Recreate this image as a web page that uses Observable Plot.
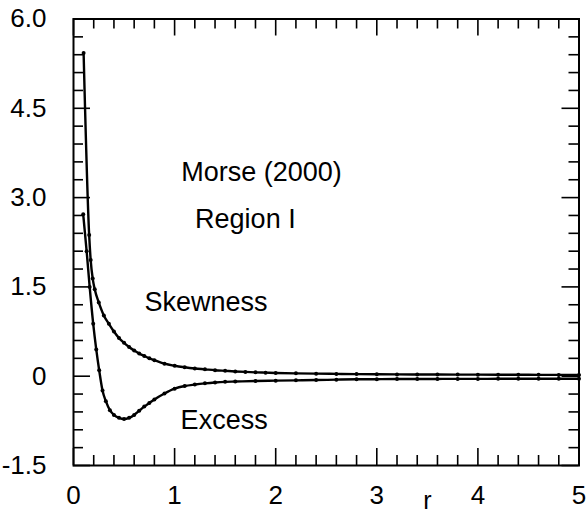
<!DOCTYPE html>
<html><head><meta charset="utf-8">
<script src="https://cdn.jsdelivr.net/npm/d3@7"></script>
<script src="https://cdn.jsdelivr.net/npm/@observablehq/plot@0.6"></script>
<style>html,body{margin:0;padding:0;background:#fff}</style>
</head><body><div id="chart"></div>
<script>
// Skewness series (r, value)
const skewR = [0.10, 0.155, 0.17, 0.19, 0.21, 0.25, 0.30, 0.35, 0.40, 0.45, 0.50, 0.55, 0.60, 0.65, 0.70, 0.75, 0.80, 0.90, 1.0, 1.1, 1.2, 1.3, 1.4, 1.5, 1.6, 1.7, 1.8, 1.9, 2.0, 2.2, 2.4, 2.6, 2.8, 3.0, 3.2, 3.4, 3.6, 3.8, 4.0, 4.2, 4.4, 4.6, 4.8, 5.0];
const skewness = [5.43, 2.37, 1.95, 1.64, 1.46, 1.24, 1.02, 0.88, 0.75, 0.64, 0.56, 0.49, 0.43, 0.38, 0.34, 0.30, 0.27, 0.21, 0.175, 0.15, 0.13, 0.115, 0.10, 0.09, 0.08, 0.072, 0.065, 0.06, 0.055, 0.048, 0.043, 0.039, 0.035, 0.032, 0.03, 0.029, 0.028, 0.027, 0.026, 0.025, 0.024, 0.023, 0.022, 0.022];
// Excess series (r, value)
const excessR = [0.096, 0.13, 0.16, 0.195, 0.225, 0.254, 0.287, 0.32, 0.36, 0.40, 0.45, 0.50, 0.55, 0.60, 0.65, 0.70, 0.75, 0.80, 0.90, 1.0, 1.1, 1.2, 1.3, 1.4, 1.5, 1.6, 1.8, 2.0, 2.2, 2.4, 2.6, 2.8, 3.0, 3.2, 3.4, 3.6, 3.8, 4.0, 4.2, 4.4, 4.6, 4.8, 5.0];
const excess = [2.72, 2.1, 1.5, 0.88, 0.45, 0.10, -0.24, -0.42, -0.57, -0.65, -0.70, -0.72, -0.70, -0.65, -0.58, -0.51, -0.45, -0.39, -0.29, -0.21, -0.165, -0.14, -0.12, -0.105, -0.095, -0.09, -0.08, -0.075, -0.07, -0.065, -0.058, -0.052, -0.05, -0.048, -0.047, -0.046, -0.045, -0.045, -0.044, -0.044, -0.043, -0.043, -0.043];

const xTicks = [0, 1, 2, 3, 4, 5];
const xMinorTicks = [0.2, 0.4, 0.6, 0.8, 1.2, 1.4, 1.6, 1.8, 2.2, 2.4, 2.6, 2.8, 3.2, 3.4, 3.6, 3.8, 4.2, 4.4, 4.6, 4.8];
const yTicks = [-1.5, 0, 1.5, 3, 4.5, 6];
const yTickLabels = ["-1.5", "0", "1.5", "3.0", "4.5", "6.0"];
const yMinorTicks = [-1.2, -0.9, -0.6, -0.3, 0.3, 0.6, 0.9, 1.2, 1.8, 2.1, 2.4, 2.7, 3.3, 3.6, 3.9, 4.2, 4.8, 5.1, 5.4, 5.7];

const annoText = ["Morse (2000)", "Region I", "Skewness", "Excess"];
const annoR = [1.86, 1.70, 1.31, 1.49];
const annoV = [3.43, 2.64, 1.24, -0.74];
const axisTitle = ["r"];
const axisTitleR = [3.5];
const axisTitleV = [-2.1];

const W = 588, H = 516;
const mL = 73, mR = 9.5, mT = 18.5, mB = 51;
const fw = W - mL - mR, fh = H - mT - mB;
const minorLen = 10, majorLen = 17;
const font = "'Liberation Sans', Arial, Helvetica, sans-serif";

const chart = Plot.plot({
  width: W, height: H,
  marginLeft: mL, marginRight: mR, marginTop: mT, marginBottom: mB,
  style: {fontFamily: font, fontSize: "26px", color: "#000", background: "#fff"},
  x: {domain: [0, 5], label: null},
  y: {domain: [-1.5, 6], label: null},
  marks: [
    Plot.frame({stroke: "#000", strokeWidth: 2}),
    // inward ticks, bottom & top
    Plot.tickX(xMinorTicks, {x: d => d, insetTop: fh - minorLen, stroke: "#000", strokeWidth: 1.6}),
    Plot.tickX(xMinorTicks, {x: d => d, insetBottom: fh - minorLen, stroke: "#000", strokeWidth: 1.6}),
    Plot.tickX(xTicks, {x: d => d, insetTop: fh - majorLen, stroke: "#000", strokeWidth: 1.6}),
    Plot.tickX(xTicks, {x: d => d, insetBottom: fh - majorLen, stroke: "#000", strokeWidth: 1.6}),
    // inward ticks, left & right
    Plot.tickY(yMinorTicks, {y: d => d, insetRight: fw - minorLen, stroke: "#000", strokeWidth: 1.6}),
    Plot.tickY(yMinorTicks, {y: d => d, insetLeft: fw - minorLen, stroke: "#000", strokeWidth: 1.6}),
    Plot.tickY(yTicks, {y: d => d, insetRight: fw - majorLen, stroke: "#000", strokeWidth: 1.6}),
    Plot.tickY(yTicks, {y: d => d, insetLeft: fw - majorLen, stroke: "#000", strokeWidth: 1.6}),
    Plot.axisX(xTicks, {tickSize: 0, tickPadding: 20, fontSize: 26, label: null}),
    Plot.axisY(yTicks, {tickSize: 0, tickPadding: 27, fontSize: 26, label: null,
      tickFormat: d => yTickLabels[yTicks.indexOf(d)]}),
    // curves
    Plot.line(skewness, {x: skewR, y: skewness, stroke: "#000", strokeWidth: 2.4, curve: "monotone-x"}),
    Plot.dot(skewness, {x: skewR, y: skewness, r: 2, fill: "#000", stroke: null}),
    Plot.line(excess, {x: excessR, y: excess, stroke: "#000", strokeWidth: 2.4, curve: "monotone-x"}),
    Plot.dot(excess, {x: excessR, y: excess, r: 2, fill: "#000", stroke: null}),
    // annotations
    Plot.text(annoText, {x: annoR, y: annoV, text: d => d, fontSize: 27, fill: "#000", textAnchor: "middle"}),
    Plot.text(axisTitle, {x: axisTitleR, y: axisTitleV, text: d => d, fontSize: 25, fill: "#000", textAnchor: "middle"})
  ]
});
document.getElementById("chart").appendChild(chart);
</script>
</body></html>
